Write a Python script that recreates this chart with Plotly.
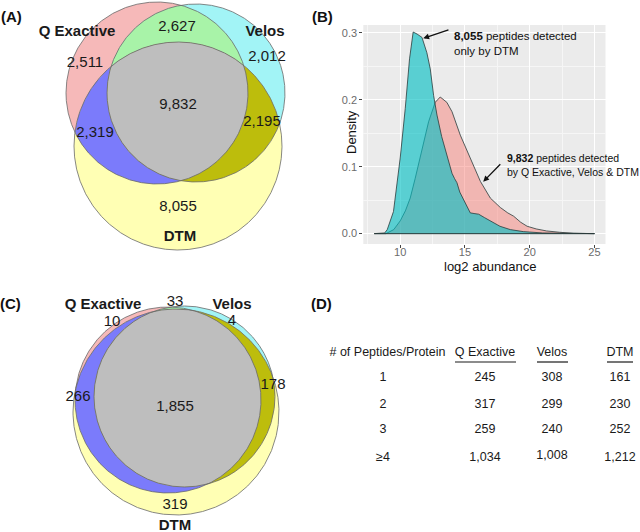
import numpy as np
import plotly.graph_objects as go

W, H = 640, 532

# ---------------- data ----------------
set_names = ["Q Exactive", "Velos", "DTM"]
# region order: Q only, Q&V, V only, Q&D, all three, V&D, D only
venn_a_counts = [2511, 2627, 2012, 2319, 9832, 2195, 8055]
venn_c_counts = [10, 33, 4, 266, 1855, 178, 319]

# density of log2 abundance
dtm_only_x = [8, 8.8, 9.0, 9.48, 10.0, 10.39, 10.72, 11.0, 11.3, 11.68, 12.06, 12.32, 12.58,
              12.84, 13.2, 13.6, 14.0, 14.2, 14.38, 14.6, 14.9, 15.41, 15.7, 16.06, 16.5, 16.96,
              17.7, 18.5, 19.5, 21, 23, 25]
dtm_only_y = [0, 0.001, 0.006, 0.033, 0.113, 0.187, 0.261, 0.301, 0.298, 0.293, 0.270, 0.246, 0.206,
              0.177, 0.145, 0.117, 0.090, 0.082, 0.076, 0.062, 0.050, 0.031, 0.030, 0.029, 0.024, 0.019,
              0.011, 0.006, 0.003, 0.001, 0.0002, 0]
all3_x = [8, 8.9, 9.5, 10.0, 10.4, 10.77, 11.15, 11.55, 12.19, 12.7, 13.09, 13.6, 14.0, 14.64,
          15.41, 16.19, 16.96, 17.73, 18.3, 18.76, 19.3, 19.8, 20.5, 21.3, 22.3, 23.4, 25]
all3_y = [0, 0, 0.006, 0.019, 0.034, 0.053, 0.082, 0.113, 0.167, 0.196, 0.204, 0.196, 0.182, 0.147,
          0.113, 0.078, 0.053, 0.039, 0.031, 0.026, 0.017, 0.011, 0.007, 0.004, 0.002, 0.0005, 0]
x_ticks = [10, 15, 20, 25]
y_ticks = [0.0, 0.1, 0.2, 0.3]
y_ticktext = ["0.0", "0.1", "0.2", "0.3"]

# table (D)
table_header = ["# of Peptides/Protein", "Q Exactive", "Velos", "DTM"]
peptides_per_protein = ["1", "2", "3", "≥4"]
qe_proteins = [245, 317, 259, 1034]
velos_proteins = [308, 299, 240, 1008]
dtm_proteins = [161, 230, 252, 1212]

# ---------------- layout / geometry (pixels) ----------------
REG = "Liberation Sans, Arial, sans-serif"
venn_cols = {"Q": "#F6B9B9", "V": "#A2F4F6", "D": "#FFFFB4",
             "QV": "#A8F3A8", "QD": "#7B7BFB", "VD": "#BDBD0C", "QVD": "#BEBEBE"}

circ_a = {"Q": (157, 93, 91), "V": (196, 93, 89), "D": (178, 146, 104)}
circ_c = {"Q": (168, 400, 93), "V": (184.5, 396.5, 90.5), "D": (176, 412, 103)}
lab_a = [(85, 63), (177, 27), (267, 57), (95, 133), (178, 105), (262, 122), (178, 207)]
lab_c = [(112, 322), (175, 302), (232, 321), (78, 397), (175, 407), (273, 385), (175, 505)]
name_a = [(77, 32), (265, 32), (180, 237)]
name_c = [(103, 305), (232, 305), (175, 526)]


def inter_poly(circles, n=2400):
    pts = []
    for i, c in enumerate(circles):
        t = np.linspace(0, 2 * np.pi, n, endpoint=False)
        x = c[0] + c[2] * np.cos(t)
        y = c[1] + c[2] * np.sin(t)
        m = np.ones(n, bool)
        for j, d in enumerate(circles):
            if j != i:
                m &= (x - d[0]) ** 2 + (y - d[1]) ** 2 <= d[2] ** 2 + 1e-6
        pts.append(np.column_stack([x[m], y[m]]))
    P = np.vstack(pts)
    cx, cy = P.mean(axis=0)
    o = np.argsort(np.arctan2(P[:, 1] - cy, P[:, 0] - cx))
    P = P[o]
    P = np.vstack([P, P[:1]])
    return P[:, 0], P[:, 1]


fig = go.Figure()


def add_venn(circ, counts, labpos, namepos):
    order = [["Q"], ["V"], ["D"], ["Q", "V"], ["Q", "D"], ["V", "D"], ["Q", "V", "D"]]
    for keys in order:
        xs, ys = inter_poly([circ[k] for k in keys])
        fig.add_trace(go.Scatter(x=xs, y=ys, mode="lines", fill="toself",
                                 fillcolor=venn_cols["".join(keys)], line=dict(width=0),
                                 xaxis="x2", yaxis="y2", hoverinfo="skip", showlegend=False))
    for k in ["Q", "V", "D"]:
        xs, ys = inter_poly([circ[k]])
        fig.add_trace(go.Scatter(x=xs, y=ys, mode="lines", line=dict(color="#6a6a6a", width=0.8),
                                 xaxis="x2", yaxis="y2", hoverinfo="skip", showlegend=False))
    fig.add_trace(go.Scatter(x=[p[0] for p in labpos], y=[p[1] for p in labpos], mode="text",
                             text=[f"{v:,}" for v in counts],
                             textfont=dict(family=REG, size=15, color="#1a1a1a"),
                             xaxis="x2", yaxis="y2", hoverinfo="skip", showlegend=False))
    fig.add_trace(go.Scatter(x=[p[0] for p in namepos], y=[p[1] for p in namepos], mode="text",
                             text=[f"<b>{s}</b>" for s in set_names],
                             textfont=dict(family=REG, size=15, color="#1a1a1a"),
                             xaxis="x2", yaxis="y2", hoverinfo="skip", showlegend=False))


add_venn(circ_a, venn_a_counts, lab_a, name_a)
add_venn(circ_c, venn_c_counts, lab_c, name_c)

# ---- panel B density ----
for xs, ys, col in [(all3_x, all3_y, "rgba(248,118,109,0.45)"),
                    (dtm_only_x, dtm_only_y, "rgba(0,191,196,0.62)")]:
    px_ = list(xs) + [xs[-1], xs[0]]
    py_ = list(ys) + [0, 0]
    fig.add_trace(go.Scatter(x=px_, y=py_, mode="lines", fill="toself", fillcolor=col,
                             line=dict(color="#2b3b3b", width=0.8), xaxis="x", yaxis="y",
                             hoverinfo="skip", showlegend=False))

# ---- panel D table ----
col_x = [383, 485, 552, 620]
row_y = [378, 405, 430, 458]
hdr_x = [387.5, 485, 552, 620]
TF = 12.5
fig.add_trace(go.Scatter(x=hdr_x, y=[353] * 4, mode="text", text=table_header,
                         textfont=dict(family=REG, size=TF, color="#1a1a1a"),
                         xaxis="x2", yaxis="y2", hoverinfo="skip", showlegend=False))
for ci, vals in enumerate([peptides_per_protein, qe_proteins, velos_proteins, dtm_proteins]):
    txt = [v if isinstance(v, str) else f"{v:,}" for v in vals]
    ys = list(row_y)
    if ci == 2:
        ys[3] = 456
    fig.add_trace(go.Scatter(x=[col_x[ci]] * 4, y=ys, mode="text", text=txt,
                             textfont=dict(family=REG, size=TF, color="#1a1a1a"),
                             xaxis="x2", yaxis="y2", hoverinfo="skip", showlegend=False))
for (x0, x1) in [(455, 516), (537, 568), (607, 633)]:
    fig.add_shape(type="line", x0=x0, x1=x1, y0=362, y1=362, xref="x2", yref="y2",
                  line=dict(color="#1a1a1a", width=1.2))

# ---- panel B background ----
fig.add_shape(type="rect", xref="x domain", yref="y domain", x0=0, x1=1, y0=0, y1=1,
              fillcolor="#EBEBEB", line=dict(width=0), layer="below")

bx0, bx1, by0, by1 = 363.3, 605.5, 25, 244
fig.update_layout(
    width=W, height=H, margin=dict(l=0, r=0, t=0, b=0),
    paper_bgcolor="white", plot_bgcolor="rgba(0,0,0,0)",
    xaxis=dict(domain=[bx0 / W, bx1 / W], range=[7.15, 25.85], tickvals=x_ticks,
               ticks="outside", ticklen=3, tickcolor="#444", showline=False, zeroline=False,
               ticklabelstandoff=-5,
               showgrid=True, gridcolor="white", gridwidth=1,
               minor=dict(showgrid=True, gridcolor="#F6F6F6", gridwidth=0.6, dtick=2.5),
               tickfont=dict(family=REG, size=11, color="#6b6b6b"), anchor="y"),
    yaxis=dict(domain=[1 - by1 / H, 1 - by0 / H], range=[-0.0155, 0.3115], tickvals=y_ticks,
               ticktext=y_ticktext,
               ticks="outside", ticklen=3, tickcolor="#444", showline=False, zeroline=False,
               showgrid=True, gridcolor="white", gridwidth=1,
               minor=dict(showgrid=True, gridcolor="#F6F6F6", gridwidth=0.6, dtick=0.05),
               tickfont=dict(family=REG, size=11, color="#6b6b6b"), anchor="x"),
    xaxis2=dict(domain=[0, 1], range=[0, W], visible=False, anchor="y2", fixedrange=True),
    yaxis2=dict(domain=[0, 1], range=[H, 0], visible=False, anchor="x2", fixedrange=True),
)

ann = []
for lab, x, y in [("(A)", 11, 17), ("(B)", 322, 17), ("(C)", 10, 303), ("(D)", 321, 303)]:
    ann.append(dict(text=f"<b>{lab}</b>", x=x / W, y=1 - y / H, xref="paper", yref="paper",
                    xanchor="center", yanchor="middle",
                    showarrow=False, font=dict(family=REG, size=15, color="#111")))
ann.append(dict(text="Density", x=351 / W, y=1 - 132 / H, xref="paper", yref="paper",
                xanchor="center", yanchor="middle",
                textangle=-90, showarrow=False, font=dict(family=REG, size=13, color="#111")))
ann.append(dict(text="log2 abundance", x=490 / W, y=1 - 266 / H, xref="paper", yref="paper",
                xanchor="center", yanchor="middle",
                showarrow=False, font=dict(family=REG, size=13, color="#111")))
ann.append(dict(text="<b>8,055</b> peptides detected<br>only by DTM", x=14.0, y=0.2842,
                xref="x", yref="y", xanchor="left", yanchor="middle", align="left",
                showarrow=False, font=dict(family=REG, size=11.5, color="#111")))
ann.append(dict(text="<b>9,832</b> peptides detected<br>by Q Exactive, Velos &amp; DTM", x=18.09,
                y=0.1025, xref="x", yref="y", xanchor="left", yanchor="middle", align="left",
                showarrow=False, font=dict(family=REG, size=10.5, color="#111")))
for (hx, hy, tx, ty) in [(11.78, 0.2916, 13.84, 0.3051), (16.41, 0.0775, 17.84, 0.1059)]:
    ann.append(dict(text="", x=hx, y=hy, ax=tx, ay=ty, xref="x", yref="y", axref="x", ayref="y",
                    showarrow=True, arrowhead=2, arrowsize=0.9, arrowwidth=1.3, arrowcolor="#111"))
fig.update_layout(annotations=ann)

fig.write_html("out.html", config={"displayModeBar": False},
               post_script="document.body.style.margin='0';")
